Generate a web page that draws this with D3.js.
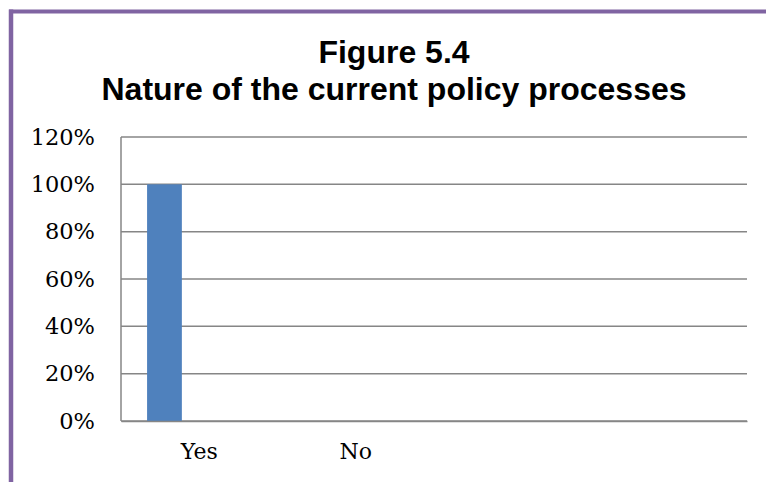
<!DOCTYPE html>
<html>
<head>
<meta charset="utf-8">
<script src="https://cdn.jsdelivr.net/npm/d3@7"></script>
<style>
  body { margin: 0; background: #fff; }
  svg { display: block; }
</style>
</head>
<body>
<div id="chart"></div>
<script>
var WIDTH = 766, HEIGHT = 482;

// categories (last two are blank in the source sheet)
var categories = ['Yes', 'No', '', ''];
// three series, only the first one carries a value
var series1 = [1.0, 0, 0, 0];
var series2 = [0, 0, 0, 0];
var series3 = [0, 0, 0, 0];
var yTicks = [0, 0.2, 0.4, 0.6, 0.8, 1.0, 1.2];
var titleLines = ['Figure 5.4', 'Nature of the current policy processes'];

var BAR_COLOR = '#4F81BD';
var GRID_COLOR = '#868686';
var BORDER_COLOR = '#8064A2';

var margin = {left: 121, right: 19, top: 137, bottom: 61};

var svg = d3.select('#chart')
    .append('svg')
    .attr('width', WIDTH)
    .attr('height', HEIGHT);

// frame (only top and left edges are in view)
svg.append('line')
    .attr('x1', 9).attr('x2', WIDTH)
    .attr('y1', 11.5).attr('y2', 11.5)
    .attr('stroke', BORDER_COLOR).attr('stroke-width', 4);
svg.append('line')
    .attr('x1', 11).attr('x2', 11)
    .attr('y1', 9.5).attr('y2', HEIGHT)
    .attr('stroke', BORDER_COLOR).attr('stroke-width', 4.5);

// title
svg.append('g').selectAll('text')
    .data(titleLines)
    .enter()
    .append('text')
    .attr('x', 394)
    .attr('y', function(d, i) { return 63 + i * 37; })
    .attr('text-anchor', 'middle')
    .style('font-family', 'Arial, "Liberation Sans", sans-serif')
    .style('font-weight', 'bold')
    .style('font-size', '32px')
    .text(function(d) { return d; });

var x0 = d3.scaleBand()
    .domain(d3.range(categories.length))
    .range([margin.left, WIDTH - margin.right])
    .padding(0);

var seriesData = [series1, series2, series3];
// excel gap width 150% -> outer padding of 0.75 bar widths
var x1 = d3.scaleBand()
    .domain(d3.range(seriesData.length))
    .range([0, x0.bandwidth()])
    .paddingInner(0)
    .paddingOuter(0.75);

var y = d3.scaleLinear()
    .domain([0, 1.2])
    .range([HEIGHT - margin.bottom, margin.top]);

// gridlines
svg.append('g').selectAll('line')
    .data(yTicks)
    .enter()
    .append('line')
    .attr('x1', margin.left)
    .attr('x2', WIDTH - margin.right)
    .attr('y1', function(d) { return y(d); })
    .attr('y2', function(d) { return y(d); })
    .attr('stroke', GRID_COLOR)
    .attr('stroke-width', 1.5);

// y axis labels
var yAxis = d3.axisLeft(y)
    .tickValues(yTicks)
    .tickSize(0)
    .tickPadding(26)
    .tickFormat(d3.format('.0%'));
var yAxisGroup = svg.append('g')
    .attr('transform', 'translate(' + margin.left + ',0)')
    .call(yAxis);
yAxisGroup.select('.domain').remove();
yAxisGroup.selectAll('text')
    .attr('fill', '#000')
    .style('font-family', '"DejaVu Serif", serif')
    .style('font-size', '22.5px');

// bars
var groups = svg.append('g').selectAll('g')
    .data(categories.map(function(c, i) { return i; }))
    .enter()
    .append('g')
    .attr('transform', function(i) { return 'translate(' + x0(i) + ',0)'; });

groups.selectAll('rect')
    .data(function(i) {
        return seriesData.map(function(s, k) { return {k: k, v: s[i]}; });
    })
    .enter()
    .append('rect')
    .attr('x', function(d) { return x1(d.k); })
    .attr('width', x1.bandwidth())
    .attr('y', function(d) { return y(d.v); })
    .attr('height', function(d) { return y(0) - y(d.v); })
    .attr('fill', BAR_COLOR);

// axis lines
svg.append('line')
    .attr('x1', margin.left).attr('x2', margin.left)
    .attr('y1', y(1.2)).attr('y2', y(0))
    .attr('stroke', GRID_COLOR).attr('stroke-width', 1.5);

var xAxis = d3.axisBottom(x0)
    .tickSize(0)
    .tickPadding(22)
    .tickFormat(function(i) { return categories[i]; });
var xAxisGroup = svg.append('g')
    .attr('transform', 'translate(0,' + y(0) + ')')
    .call(xAxis);
xAxisGroup.select('.domain')
    .attr('stroke', GRID_COLOR)
    .attr('stroke-width', 1.5);
xAxisGroup.selectAll('text')
    .attr('fill', '#000')
    .style('font-family', '"DejaVu Serif", serif')
    .style('font-size', '22px');
</script>
</body>
</html>
